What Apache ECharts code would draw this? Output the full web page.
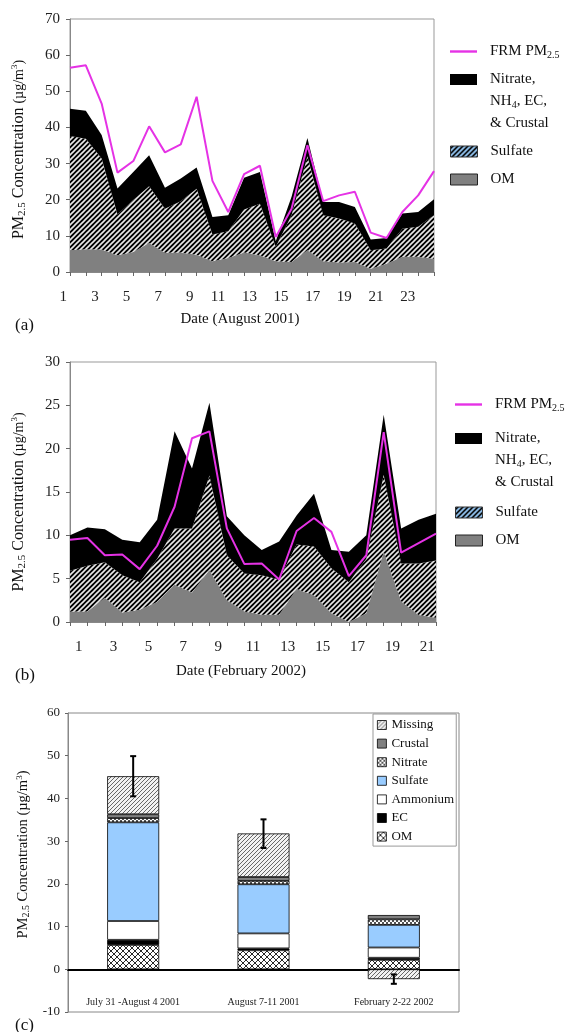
<!DOCTYPE html>
<html>
<head>
<meta charset="utf-8">
<script src="https://cdn.jsdelivr.net/npm/echarts@6/dist/echarts.min.js"></script>
<style>html,body{margin:0;padding:0;background:#fff;}#c{width:577px;height:1032px;}</style>
</head>
<body>
<div id="c"></div>
<script>
// ---------- DATA ----------
// Panel (a): August 2001
const daysA = ['1','2','3','4','5','6','7','8','9','10','11','12','13','14','15','16','17','18','19','20','21','22','23','24'];
const omA      = [6.0,6.3,6.2,4.6,5.5,8.0,5.3,5.4,4.8,3.0,3.9,5.4,4.6,3.0,2.8,6.0,3.0,2.6,2.8,0.9,2.3,4.2,4.2,3.7];
const sulfateA = [31.6,30.6,25.2,11.3,14.4,15.7,12.2,14.2,18.2,7.4,7.4,11.9,14.3,4.0,12.9,26.0,12.7,12.2,10.6,5.1,4.2,7.8,8.3,12.0];
const otherA   = [7.6,7.7,6.5,7.2,7.8,8.6,5.8,6.3,5.9,4.8,4.4,8.8,8.8,1.5,5.1,5.1,3.7,4.6,4.6,3.0,2.9,4.2,4.1,4.4];
const frmA     = [56.5,57.2,46.6,27.5,30.7,40.3,33.1,35.3,48.5,25.2,16.6,27.1,29.4,9.7,17.5,35.1,19.6,21.2,22.2,10.9,9.4,16.6,21.2,27.9];

// Panel (b): February 2002 (22 sample points, 21 day labels between ticks)
const pointsB  = ['p0','p1','p2','p3','p4','p5','p6','p7','p8','p9','p10','p11','p12','p13','p14','p15','p16','p17','p18','p19','p20','p21'];
const daysB    = ['1','2','3','4','5','6','7','8','9','10','11','12','13','14','15','16','17','18','19','20','21'];
const omB      = [1.2,1.2,2.8,1.1,1.4,2.3,4.3,3.4,6.0,2.5,1.2,0.85,0.85,3.8,3.1,1.0,0.0,1.0,8.1,2.4,0.8,0.5];
const sulfateB = [4.7,5.3,4.1,4.3,3.2,5.0,6.5,7.4,10.9,5.2,4.4,4.55,4.05,5.15,5.6,5.2,4.6,6.3,8.9,4.35,5.95,6.6];
const otherB   = [4.1,4.4,3.8,4.1,4.6,4.5,11.2,6.9,8.4,4.5,4.4,2.9,4.4,3.35,6.1,2.1,3.5,2.7,6.9,4.05,5.05,5.4];
const frmB     = [9.5,9.7,7.7,7.8,6.1,8.8,13.3,21.2,22.0,10.8,6.7,6.75,4.9,10.5,12.0,10.4,5.3,7.7,21.9,8.0,9.1,10.2];

// Panel (c): period averages
const periodsC   = ['July 31 -August 4 2001','August 7-11 2001','February 2-22 2002'];
const omC        = [5.7,4.45,2.2];
const ecC        = [1.2,0.45,0.5];
const ammoniumC  = [4.4,3.5,2.4];
const sulfateC   = [23.1,11.5,5.3];
const nitrateC   = [1.0,0.8,1.3];
const crustalC   = [0.9,0.9,1.0];
const missingC   = [8.9,10.2,-2.3];
const errLowC    = [40.5,28.4,-3.4];
const errHighC   = [49.9,35.1,-1.2];

// ---------- STYLE HELPERS ----------
const FONT = 'Liberation Serif';
function pattern(w, h, draw){
  const c = document.createElement('canvas'); c.width = w; c.height = h;
  const g = c.getContext('2d'); draw(g, w, h);
  return {image: c, repeat: 'repeat'};
}
function stripes(bg, fg, size, lw){
  return pattern(size, size, (g, w, h) => {
    g.fillStyle = bg; g.fillRect(0,0,w,h);
    g.strokeStyle = fg; g.lineWidth = lw;
    g.beginPath();
    g.moveTo(-1, h+1); g.lineTo(w+1, -1);
    g.moveTo(-1, 1); g.lineTo(1, -1);
    g.moveTo(w-1, h+1); g.lineTo(w+1, h-1);
    g.stroke();
  });
}
const sulfateStripe = stripes('#000', '#e8e8e8', 5, 1.6);
const sulfateLegend = stripes('#000', '#9cd0ff', 5, 1.8);
const missingPat = stripes('#f2f2f2', '#444', 4, 0.8);
const omCross = pattern(6, 6, (g, w, h) => {
  g.fillStyle = '#fff'; g.fillRect(0,0,w,h);
  g.strokeStyle = '#111'; g.lineWidth = 0.9;
  g.beginPath();
  g.moveTo(0,0); g.lineTo(w,h);
  g.moveTo(w,0); g.lineTo(0,h);
  g.stroke();
});
const nitratePat = pattern(4, 4, (g, w, h) => {
  g.fillStyle = '#fff'; g.fillRect(0,0,w,h);
  g.fillStyle = '#555';
  g.fillRect(0,0,2,2); g.fillRect(2,2,2,2);
});

const MAG = '#e532e5';
const rich = {
  n:  {fontFamily: FONT, fontSize: 15, color: '#111', lineHeight: 22},
  s:  {fontFamily: FONT, fontSize: 10, color: '#111', lineHeight: 22, padding: [7,0,0,0]},
  u:  {fontFamily: FONT, fontSize: 13, color: '#111'},
  sup:{fontFamily: FONT, fontSize: 9, color: '#111', padding: [0,0,8,0]}
};
const richY = {
  n:  {fontFamily: FONT, fontSize: 16, color: '#111'},
  s:  {fontFamily: FONT, fontSize: 11, color: '#111', padding: [7,0,0,0]},
  u:  {fontFamily: FONT, fontSize: 14, color: '#111'},
  sup:{fontFamily: FONT, fontSize: 9, color: '#111', padding: [0,0,8,0]}
};
const richC = {
  n:  {fontFamily: FONT, fontSize: 14.5, color: '#111'},
  s:  {fontFamily: FONT, fontSize: 10, color: '#111', padding: [7,0,0,0]},
  u:  {fontFamily: FONT, fontSize: 14.5, color: '#111'},
  sup:{fontFamily: FONT, fontSize: 9, color: '#111', padding: [0,0,8,0]}
};
const yName = '{n|PM}{s|2.5}{n| Concentration }{u|(\u00b5g/m}{sup|3}{u|)}';

const RECT = 'path://M0,0H27V11H0Z';
const TALL = 'path://M0,0H27V11H0Z M26.9,54.9H27V55H26.9Z';
const LINEICON = 'path://M0,0H27V2.4H0Z';

function legendSet(left, tops){
  const base = {left: left, orient: 'vertical', itemWidth: 27, itemHeight: 11, padding: 0,
    textStyle: {fontFamily: FONT, fontSize: 15, color: '#111', rich: rich, padding: [0,0,0,8]},
    selectedMode: false};
  return [
    Object.assign({}, base, {top: tops[0], data: [{name: 'FRM PM2.5', icon: LINEICON, itemStyle: {color: MAG, borderWidth: 0}}],
      formatter: () => '{n|FRM PM}{s|2.5}'}),
    Object.assign({}, base, {top: tops[1], itemHeight: 55, data: [{name: 'Other', icon: TALL, itemStyle: {color: '#000', borderWidth: 0}}],
      formatter: () => '{n|Nitrate,}\n{n|NH}{s|4}{n|, EC,}\n{n|& Crustal}'}),
    Object.assign({}, base, {top: tops[2], data: [{name: 'Sulfate', icon: RECT, itemStyle: {color: sulfateLegend, borderColor: '#333', borderWidth: 1}}],
      formatter: () => '{n|Sulfate}'}),
    Object.assign({}, base, {top: tops[3], data: [{name: 'OM', icon: RECT, itemStyle: {color: '#808080', borderColor: '#222', borderWidth: 1}}],
      formatter: () => '{n|OM}'})
  ];
}

const axisLabelFont = {fontFamily: FONT, fontSize: 15, color: '#222'};

function areaSeries(name, data, color, xi, yi, stack){
  return {type: 'line', name: name, data: data, stack: stack, xAxisIndex: xi, yAxisIndex: yi,
    symbol: 'none', lineStyle: {width: 0}, areaStyle: {color: color, opacity: 1}, z: 2};
}
function barSeries(name, data, color){
  return {type: 'bar', name: name, data: data, stack: 'c', xAxisIndex: 3, yAxisIndex: 2,
    barWidth: 52, itemStyle: {color: color, borderColor: '#000', borderWidth: 0.8}};
}

const legendsC = {
  left: 373, top: 714, orient: 'vertical', itemWidth: 9, itemHeight: 9, itemGap: 3.6,
  padding: [3.5, 2, 2, 4], borderColor: '#999', borderWidth: 1, selectedMode: false,
  textStyle: {fontFamily: FONT, fontSize: 13, color: '#111', lineHeight: 15},
  data: [
    {name: 'Missing', icon: 'rect', itemStyle: {color: missingPat, borderColor: '#000', borderWidth: 0.8}},
    {name: 'Crustal', icon: 'rect', itemStyle: {color: '#808080', borderColor: '#000', borderWidth: 0.8}},
    {name: 'Nitrate', icon: 'rect', itemStyle: {color: nitratePat, borderColor: '#000', borderWidth: 0.8}},
    {name: 'Sulfate ', icon: 'rect', itemStyle: {color: '#99ccff', borderColor: '#000', borderWidth: 0.8}},
    {name: 'Ammonium', icon: 'rect', itemStyle: {color: '#fff', borderColor: '#000', borderWidth: 0.8}},
    {name: 'EC', icon: 'rect', itemStyle: {color: '#000', borderColor: '#000', borderWidth: 0.8}},
    {name: 'OM ', icon: 'rect', itemStyle: {color: omCross, borderColor: '#000', borderWidth: 0.8}}
  ],
  formatter: n => n.trim()
};

const chart = echarts.init(document.getElementById('c'), null, {renderer: 'canvas'});
chart.setOption({
  animation: false,
  backgroundColor: '#fff',
  title: [
    {text: '(a)', left: 10, top: 312, textStyle: {fontFamily: FONT, fontSize: 17, fontWeight: 'normal', color: '#111'}},
    {text: '(b)', left: 10, top: 662, textStyle: {fontFamily: FONT, fontSize: 17, fontWeight: 'normal', color: '#111'}},
    {text: '(c)', left: 10, top: 1012, textStyle: {fontFamily: FONT, fontSize: 17, fontWeight: 'normal', color: '#111'}}
  ],
  legend: [].concat(legendSet(450, [43, 72, 144, 172]), legendSet(455, [396, 431, 505, 533]), [legendsC]),
  grid: [
    {left: 70, top: 19, width: 364, height: 253, show: true, borderColor: '#999', borderWidth: 1, outerBoundsMode: 'none', containLabel: false},
    {left: 70, top: 362, width: 366, height: 260, show: true, borderColor: '#999', borderWidth: 1, outerBoundsMode: 'none', containLabel: false},
    {left: 68, top: 713, width: 391, height: 299, show: true, borderColor: '#888', borderWidth: 1, outerBoundsMode: 'none', containLabel: false}
  ],
  xAxis: [
    {type: 'category', gridIndex: 0, data: daysA, boundaryGap: false,
      axisLine: {lineStyle: {color: '#888'}}, axisTick: {interval: 0, length: 4, lineStyle: {color: '#666'}},
      axisLabel: Object.assign({interval: 1, margin: 18, align: 'right', padding: [0,3,0,0]}, axisLabelFont),
      name: 'Date (August 2001)', nameLocation: 'middle', nameGap: 40,
      nameTextStyle: {fontFamily: FONT, fontSize: 15, color: '#111', padding: [0, 24, 0, 0]}},
    {type: 'category', gridIndex: 1, data: pointsB, boundaryGap: false,
      axisLine: {lineStyle: {color: '#888'}}, axisTick: {interval: 0, length: 4, lineStyle: {color: '#666'}},
      axisLabel: {show: false},
      name: 'Date (February 2002)', nameLocation: 'middle', nameGap: 42,
      nameTextStyle: {fontFamily: FONT, fontSize: 15, color: '#111', padding: [0, 24, 0, 0]}},
    {type: 'category', gridIndex: 1, data: daysB, boundaryGap: true, position: 'bottom',
      axisLine: {show: false}, axisTick: {show: false},
      axisLabel: Object.assign({interval: 1, margin: 18}, axisLabelFont)},
    {type: 'category', gridIndex: 2, data: periodsC, boundaryGap: true,
      axisLine: {onZero: true, lineStyle: {color: '#000', width: 2}},
      axisTick: {length: 3, lineStyle: {color: '#000'}},
      axisLabel: {fontFamily: FONT, fontSize: 10, color: '#222', margin: -15}}
  ],
  yAxis: [
    {type: 'value', gridIndex: 0, min: 0, max: 70, interval: 10, splitLine: {show: false},
      axisLine: {show: true, lineStyle: {color: '#888'}}, axisTick: {show: true, length: 4, lineStyle: {color: '#666'}},
      axisLabel: Object.assign({margin: 10}, axisLabelFont),
      name: yName, nameLocation: 'middle', nameGap: 42, nameTextStyle: {rich: richY, padding: [0, 0, 0, -8]}},
    {type: 'value', gridIndex: 1, min: 0, max: 30, interval: 5, splitLine: {show: false},
      axisLine: {show: true, lineStyle: {color: '#888'}}, axisTick: {show: true, length: 4, lineStyle: {color: '#666'}},
      axisLabel: Object.assign({margin: 10}, axisLabelFont),
      name: yName, nameLocation: 'middle', nameGap: 42, nameTextStyle: {rich: richY, padding: [0, 0, 0, -20]}},
    {type: 'value', gridIndex: 2, min: -10, max: 60, interval: 10, splitLine: {show: false},
      axisLine: {show: true, lineStyle: {color: '#888'}}, axisTick: {show: true, length: 3, lineStyle: {color: '#666'}},
      axisLabel: {fontFamily: FONT, fontSize: 13, color: '#222', margin: 8},
      name: yName, nameLocation: 'middle', nameGap: 36, nameTextStyle: {rich: richC, padding: [0, 0, 0, 16]}}
  ],
  series: [
    areaSeries('OM', omA, '#808080', 0, 0, 'a'),
    areaSeries('Sulfate', sulfateA, sulfateStripe, 0, 0, 'a'),
    areaSeries('Other', otherA, '#000', 0, 0, 'a'),
    {type: 'line', name: 'FRM PM2.5', data: frmA, xAxisIndex: 0, yAxisIndex: 0, symbol: 'none',
      lineStyle: {color: MAG, width: 2}, itemStyle: {color: MAG}, z: 5},
    areaSeries('OM', omB, '#808080', 1, 1, 'b'),
    areaSeries('Sulfate', sulfateB, sulfateStripe, 1, 1, 'b'),
    areaSeries('Other', otherB, '#000', 1, 1, 'b'),
    {type: 'line', name: 'FRM PM2.5', data: frmB, xAxisIndex: 1, yAxisIndex: 1, symbol: 'none',
      lineStyle: {color: MAG, width: 2}, itemStyle: {color: MAG}, z: 5},
    barSeries('OM ', omC, omCross),
    barSeries('EC', ecC, '#000'),
    barSeries('Ammonium', ammoniumC, '#fff'),
    barSeries('Sulfate ', sulfateC, '#99ccff'),
    barSeries('Nitrate', nitrateC, nitratePat),
    barSeries('Crustal', crustalC, '#808080'),
    barSeries('Missing', missingC, missingPat),
    {type: 'custom', name: 'err', xAxisIndex: 3, yAxisIndex: 2, z: 10,
      data: periodsC.map((p, i) => [i, errLowC[i], errHighC[i]]),
      renderItem: (params, api) => {
        const lo = api.coord([api.value(0), api.value(1)]);
        const hi = api.coord([api.value(0), api.value(2)]);
        const x = lo[0], cw = 3;
        const st = {stroke: '#000', lineWidth: 2};
        return {type: 'group', children: [
          {type: 'line', shape: {x1: x, y1: lo[1], x2: x, y2: hi[1]}, style: st},
          {type: 'line', shape: {x1: x - cw, y1: lo[1], x2: x + cw, y2: lo[1]}, style: st},
          {type: 'line', shape: {x1: x - cw, y1: hi[1], x2: x + cw, y2: hi[1]}, style: st}
        ]};
      }}
  ]
});
</script>
</body>
</html>
